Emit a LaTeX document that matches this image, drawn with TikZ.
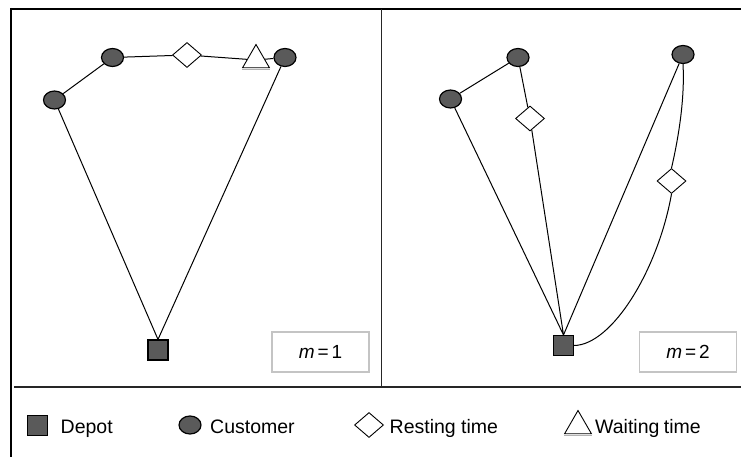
\documentclass[tikz,border=0pt]{standalone}
\usepackage{fontspec}
\setmainfont{Liberation Sans}
\usetikzlibrary{shapes.geometric}
\definecolor{nodefill}{HTML}{5A5A5A}
\definecolor{boxgray}{HTML}{C4C4C4}

\begin{document}
\begin{tikzpicture}[x=1pt,y=-1pt,
  customer/.style={ellipse, draw, fill=nodefill, line width=1.2pt,
    minimum width=22pt, minimum height=18pt, inner sep=0pt},
  depot/.style={rectangle, draw, fill=nodefill, line width=1.1pt,
    minimum size=20pt, inner sep=0pt},
  rest/.style={diamond, draw, fill=white, line width=0.9pt,
    minimum width=29pt, minimum height=25pt, inner sep=0pt},
  wait/.style={regular polygon, regular polygon sides=3, draw, fill=white,
    line width=0.9pt, minimum size=31pt, inner sep=0pt},
  route/.style={line width=1pt},
  frame/.style={line width=1.8pt},
  divider/.style={line width=1.3pt, black!85},
  mbox/.style={draw=boxgray, line width=1.2pt, minimum width=97pt,
    minimum height=40pt, inner sep=0pt},
  mlabel/.style={font=\fontsize{19}{22}\selectfont, inner sep=0pt},
  legend/.style={anchor=base west, font=\fontsize{19.5}{22}\selectfont, inner sep=0pt}
]
\useasboundingbox (0,0) rectangle (741,457);

% frame and panel separators
\draw[frame] (10,9) -- (741,9);
\draw[frame] (11,8) -- (11,457);
\draw[divider] (381.5,9) -- (381.5,387);
\draw[divider] (14,387) -- (741,387);

% ---------- single route (m = 1) ----------
\node[customer] (c1) at (54.5,100) {};
\node[customer] (c2) at (112.5,57.5) {};
\node[rest]     (d1) at (187,55) {};
\node[wait]     (t1) at (256,60) {};
\node[customer] (c3) at (285,57.5) {};
\node[depot]    (o1) at (158,350) {};

\draw[route] (o1.north) -- (c1) -- (c2) -- (d1) -- (t1) -- (c3) -- (o1.north);
\draw[gray!60, line width=1pt] ([yshift=-1.2pt]t1.corner 2) -- ([yshift=-1.2pt]t1.corner 3);

\node[mbox] (b1) at (320.5,352) {};
\node[mlabel] (l1) at (b1.center) {{\itshape m}\hspace{3pt}=\hspace{3pt}1};

% ---------- two routes (m = 2) ----------
\node[customer] (c4) at (450.5,99) {};
\node[customer] (c5) at (518,57.5) {};
\node[rest]     (d2) at (530,118.5) {};
\node[customer] (c6) at (683,54.5) {};
\node[rest]     (d3) at (671.5,181) {};
\node[depot]    (o2) at (563.5,345.5) {};

\draw[route] (o2.north) -- (c4) -- (c5) -- (d2) -- (o2.north);
\draw[route] (o2.north) -- (c6);
\draw[route] (c6.south) .. controls (685,100) and (678,140) .. (d3.north);
\draw[route] (d3.south) .. controls (658,270) and (612,345) .. (o2.east);

\node[mbox] (b2) at (688,352) {};
\node[mlabel] (l2) at (b2.center) {{\itshape m}\hspace{3pt}=\hspace{3pt}2};

% ---------- legend ----------
\node[depot]    (kd) at (37.5,425.5) {};
\node[legend]   (kdt) at (60.5,433) {Depot};
\node[customer] (kc) at (190,425) {};
\node[legend]   (kct) at (210,433) {Customer};
\node[rest]     (kr) at (369,425) {};
\node[legend]   (krt) at (389.5,433) {Resting time};
\node[wait]     (kw) at (578,426) {};
\draw[gray!60, line width=1pt] ([yshift=-1.2pt]kw.corner 2) -- ([yshift=-1.2pt]kw.corner 3);
\node[legend]   (kwt) at (595,433) {Waiting\hspace{-1pt} time};
\end{tikzpicture}
\end{document}
